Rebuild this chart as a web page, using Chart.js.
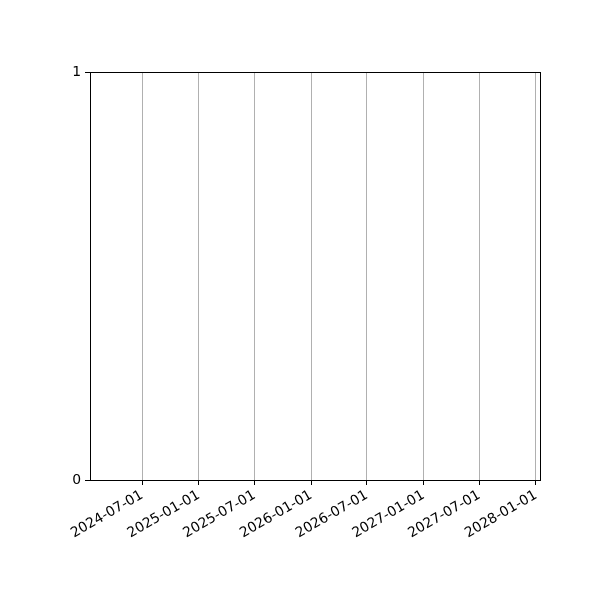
<!DOCTYPE html>
<html lang="en">
<head>
  <meta charset="UTF-8">
  <title>Empty date chart</title>
  <script src="https://cdn.jsdelivr.net/npm/chart.js"></script>
  <style>
    html, body { margin: 0; padding: 0; background: #fff; }
    #wrap { width: 600px; height: 600px; }
  </style>
</head>
<body>
  <div id="wrap"><canvas id="chart"></canvas></div>
  <script>
    // x range and ticks (dates), y range
    const xRange = ['2024-01-14', '2028-01-14'];
    const xTickDates = ['2024-07-01', '2025-01-01', '2025-07-01', '2026-01-01',
                        '2026-07-01', '2027-01-01', '2027-07-01', '2028-01-01'];
    const yTicks = [0, 1];
    // the series has no visible values
    const seriesDates = [];
    const seriesValues = [];

    const DAY = 86400000;
    function toDay(s) {
      const p = s.split('-').map(Number);
      return Date.UTC(p[0], p[1] - 1, p[2]) / DAY;
    }
    function fromDay(d) {
      return new Date(Math.round(d) * DAY).toISOString().slice(0, 10);
    }

    const font = { family: 'DejaVu Sans', size: 13.9 };

    // all four spines, snapped to pixel centres
    const frame = {
      id: 'frame',
      afterDraw(chart) {
        const { ctx, chartArea: a } = chart;
        const l = Math.round(a.left) + 0.5, r = Math.round(a.right) + 0.5;
        const t = Math.round(a.top) + 0.5, b = Math.round(a.bottom) + 0.5;
        ctx.save();
        ctx.strokeStyle = '#000';
        ctx.lineWidth = 1;
        ctx.strokeRect(l, t, r - l, b - t);
        ctx.restore();
      }
    };

    new Chart(document.getElementById('chart'), {
      type: 'line',
      data: {
        datasets: [{
          data: seriesDates.map((d, i) => ({ x: toDay(d), y: seriesValues[i] })),
          borderColor: '#1f77b4',
          pointRadius: 0
        }]
      },
      options: {
        responsive: true,
        maintainAspectRatio: false,
        animation: false,
        layout: { padding: { left: 0, top: 72, right: 60, bottom: 0 } },
        plugins: { legend: { display: false }, tooltip: { enabled: false } },
        scales: {
          x: {
            type: 'linear',
            min: toDay(xRange[0]),
            max: toDay(xRange[1]),
            afterBuildTicks(scale) {
              scale.ticks = xTickDates.map(d => ({ value: toDay(d) }));
            },
            afterFit(scale) { scale.height = 120; },
            ticks: {
              autoSkip: false,
              minRotation: 30,
              maxRotation: 30,
              padding: 2,
              color: '#000',
              font: font,
              callback: v => fromDay(v)
            },
            grid: {
              color: '#b0b0b0',
              tickColor: '#000',
              lineWidth: 1,
              tickLength: 5
            },
            border: { display: false }
          },
          y: {
            min: 0,
            max: 1,
            afterBuildTicks(scale) {
              scale.ticks = yTicks.map(v => ({ value: v }));
            },
            afterFit(scale) { scale.width = 90; },
            ticks: { padding: 4, color: '#000', font: font },
            grid: {
              drawOnChartArea: false,
              tickColor: '#000',
              lineWidth: 1,
              tickLength: 5
            },
            border: { display: false }
          }
        }
      },
      plugins: [frame]
    });
  </script>
</body>
</html>
